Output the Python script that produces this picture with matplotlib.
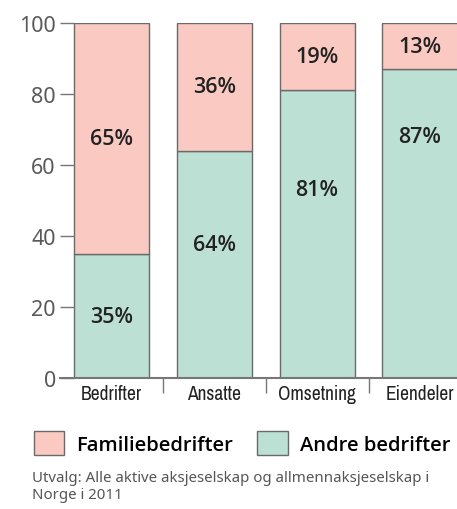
import matplotlib
matplotlib.use("Agg")
from matplotlib import pyplot as plt
from matplotlib.patches import Patch
from matplotlib import font_manager

kategorier = ["Bedrifter", "Ansatte", "Omsetning", "Eiendeler"]
andre = [35, 64, 81, 87]
familie = [65, 36, 19, 13]
# hoyde for etikettene i de gronne feltene (som i originalen)
andre_etikett_y = [17.2, 37.7, 53, 68]

rosa = "#f9c9c2"
gronn = "#bce0d4"
kant = "#6a6a6a"
tekst = "#222222"

# finn en smal skrift hvis den finnes
smal = sorted(set(f.name for f in font_manager.fontManager.ttflist
                  if "condensed" in f.name.lower() or "narrow" in f.name.lower()))
kat_familie = [smal[0]] if smal else ["DejaVu Sans"]

fig = plt.figure(figsize=(4.57, 5.10), dpi=100)
ax = fig.add_axes([60 / 457, 131 / 510, 1 - 60 / 457, 355 / 510])

x = list(range(len(kategorier)))
ax.bar(x, andre, width=0.73, color=gronn, edgecolor=kant, linewidth=1)
ax.bar(x, familie, width=0.73, bottom=andre, color=rosa, edgecolor=kant, linewidth=1)

for i in x:
    ax.text(i, andre_etikett_y[i], f"{andre[i]}%", ha="center", va="center",
            fontsize=15.5, fontweight="semibold", color=tekst, family="Open Sans")
    ax.text(i, andre[i] + familie[i] / 2, f"{familie[i]}%", ha="center", va="center",
            fontsize=15.5, fontweight="semibold", color=tekst, family="Open Sans")

ax.set_ylim(0, 100)
ax.set_xlim(-0.5, 3.36)
ax.set_yticks([0, 20, 40, 60, 80, 100])
ax.tick_params(axis="y", direction="in", length=10, width=1, color="#777777",
               labelsize=15.5, labelcolor="#5a5a5a", pad=3)
for lab in ax.get_yticklabels():
    lab.set_family("Noto Sans")

ax.set_xticks(x)
ax.set_xticklabels(kategorier, fontsize=14, color=tekst, family=kat_familie)
ax.set_xticks([0.5, 1.5, 2.5], minor=True)
ax.tick_params(axis="x", which="major", length=0, pad=4)
ax.tick_params(axis="x", which="minor", direction="out", length=11, width=1, color="#777777")

for s in ["top", "right", "left"]:
    ax.spines[s].set_visible(False)
ax.spines["bottom"].set_color("#777777")
ax.spines["bottom"].set_linewidth(1.5)

handles = [Patch(facecolor=rosa, edgecolor=kant, label="Familiebedrifter"),
           Patch(facecolor=gronn, edgecolor=kant, label="Andre bedrifter")]
fig.legend(handles=handles, loc="center left", bbox_to_anchor=(0.035, 1 - 444 / 510),
           ncol=2, frameon=False, handlelength=1.5, handleheight=1.5,
           handletextpad=0.6, columnspacing=1.2,
           prop={"family": "Open Sans", "size": 14.5, "weight": "semibold"})

fig.text(32 / 457, 1 - 487 / 510,
         "Utvalg: Alle aktive aksjeselskap og allmennaksjeselskap i\nNorge i 2011",
         fontsize=10.8, color="#555555", va="center", ha="left", family="Noto Sans",
         linespacing=1.15)

fig.savefig("out.png", dpi=100)
